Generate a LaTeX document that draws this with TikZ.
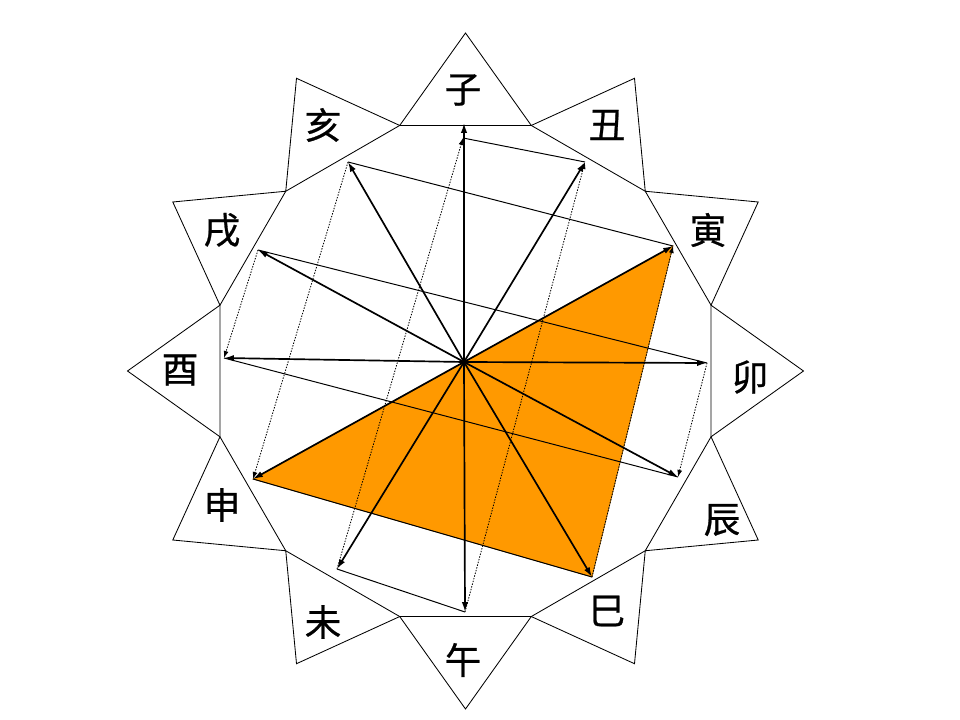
\documentclass[tikz,border=0pt]{standalone}
\usepackage{fontspec}
\usepackage{tikz}
\usetikzlibrary{arrows.meta}
\newfontface\cjk{Noto Sans CJK SC}[FakeBold=0.7]
\definecolor{sanxing}{RGB}{255,153,0}
\tikzset{
  branch/.style={font=\cjk\fontsize{26}{30}\selectfont,inner sep=0pt},
  radial/.style={line width=1.2pt,-{Latex[length=7pt,width=4.5pt]}},
  liuhe/.style={line width=0.7pt},
  liuhai/.style={line width=0.6pt,dash pattern=on 1pt off 1pt,-{Latex[length=5pt,width=3.5pt]}}
}

\begin{document}
\begin{tikzpicture}[x=0.025cm,y=-0.025cm]
  \fill[white] (0,0) rectangle (960,720);
  \useasboundingbox (0,0) rectangle (960,720);
  % star and dodecagon
  \begin{scope}[shift={(465.5,371)},line width=0.6pt]
    \draw (0:338) \foreach \a in {0,30,...,330} { -- ({\a+15}:254.2) -- ({\a+30}:338) } -- cycle;
    \draw (15:254.2) \foreach \a in {45,75,...,345} { -- (\a:254.2) } -- cycle;
  \end{scope}
  % points of the branches
  \coordinate (o)    at (464,362);
  \coordinate (zi)   at (464,123);
  \coordinate (zi2)  at (463,138);
  \coordinate (chou) at (585,162);
  \coordinate (yin)  at (673,246);
  \coordinate (mao)  at (707,363);
  \coordinate (chen) at (678,477);
  \coordinate (si)   at (592,577);
  \coordinate (wu)   at (465,612);
  \coordinate (wei)  at (337,569);
  \coordinate (shen) at (253,479);
  \coordinate (you)  at (224,358);
  \coordinate (xu)   at (258,250);
  \coordinate (hai)  at (348,162);
  \filldraw[fill=sanxing,draw=sanxing!60!black,line width=0.5pt] (yin) -- (shen) -- (si) -- cycle;
  % arrows from the centre
  \foreach \p in {zi,chou,yin,mao,chen,si,wu,wei,shen,you,xu,hai}
    \draw[radial] (o) -- (\p);
  % solid pairs
  \draw[liuhe] (zi2) -- (chou);
  \draw[liuhe] (hai) -- (yin);
  \draw[liuhe] (xu) -- (mao);
  \draw[liuhe] (you) -- (chen);
  \draw[liuhe] (shen) -- (si);
  \draw[liuhe] (wei) -- (wu);
  % dotted pairs
  \draw[liuhai] (wei) -- (zi2);
  \draw[liuhai] (wu) -- (chou);
  \draw[liuhai] (si) -- (yin);
  \draw[liuhai] (mao) -- (chen);
  \draw[liuhai] (xu) -- (you);
  \draw[liuhai] (hai) -- (shen);
  % labels
  \node[branch] (lzi)   at (463,90)  {子};
  \node[branch] (lchou) at (607,125) {丑};
  \node[branch] (lyin)  at (708,230) {寅};
  \node[branch] (lmao)  at (750,377) {卯};
  \node[branch] (lchen) at (722,520) {辰};
  \node[branch] (lsi)   at (607,611) {巳};
  \node[branch] (lwu)   at (463,660) {午};
  \node[branch] (lwei)  at (323,622) {未};
  \node[branch] (lshen) at (222,505) {申};
  \node[branch] (lyou)  at (180,370) {酉};
  \node[branch] (lxu)   at (222,230) {戌};
  \node[branch] (lhai)  at (323,125) {亥};
\end{tikzpicture}
\end{document}
